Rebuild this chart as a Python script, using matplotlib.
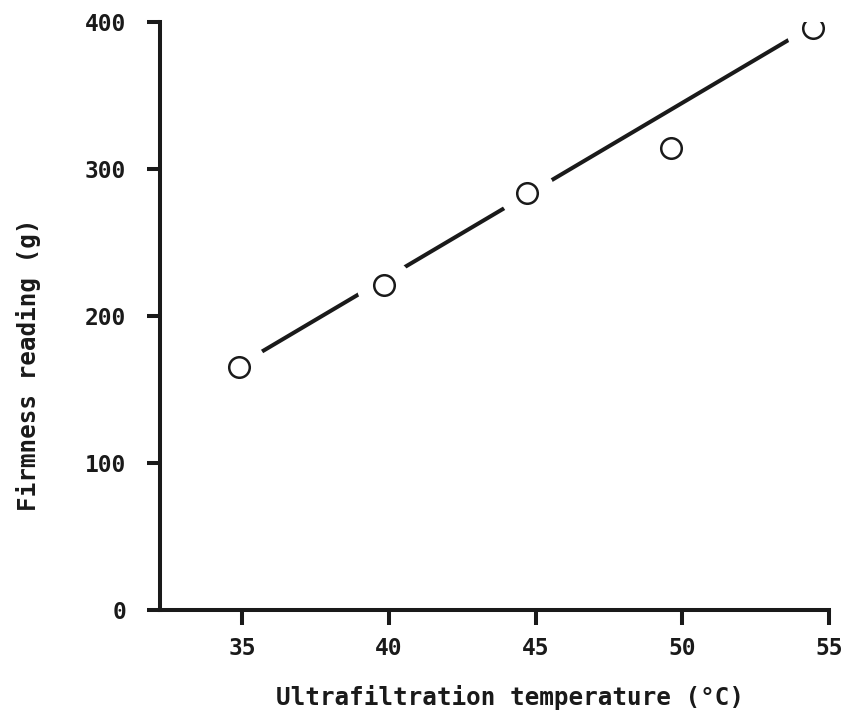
import matplotlib
matplotlib.use("Agg")
import matplotlib.pyplot as plt
import numpy as np

# data
temp = [34.9, 39.84, 44.71, 49.6, 54.45]          # ultrafiltration temperature (C)
firmness = [165, 221, 284, 314, 396]              # firmness reading (g)

# fitted line
slope = 11.81
intercept = -245.5
fit_x = [35.65, 53.67]

xticks = [35, 40, 45, 50, 55]
yticks = [0, 100, 200, 300, 400]

plt.rcParams["font.family"] = ["DejaVu Sans Mono", "DejaVu Sans"]

fig = plt.figure(figsize=(8.46, 7.2), dpi=100)
ax = fig.add_axes([0.1891, 0.1528, 0.7908, 0.8166])

fx = np.array(fit_x)
ax.plot(fx, slope * fx + intercept, color="#1a1a1a", lw=2.9,
        solid_capstyle="round", zorder=2)
# white halo breaks the line around each point
ax.plot(temp, firmness, "o", ms=40, mfc="white", mec="none", zorder=3)
ax.plot(temp, firmness, "o", ms=14.8, mfc="white", mec="#1a1a1a",
        mew=1.8, zorder=4)

ax.set_xlim(32.2, 55)
ax.set_ylim(0, 400)
ax.set_xticks(xticks)
ax.set_yticks(yticks)

for s in ["top", "right"]:
    ax.spines[s].set_visible(False)
for s in ["left", "bottom"]:
    ax.spines[s].set_linewidth(2.9)
    ax.spines[s].set_color("#1a1a1a")
    ax.spines[s].set_capstyle("projecting")

ax.tick_params(axis="x", length=10.8, width=2.9, pad=9, labelsize=16.5,
               color="#1a1a1a", labelcolor="#1a1a1a")
ax.tick_params(axis="y", length=9.4, width=2.9, pad=15, labelsize=16.5,
               color="#1a1a1a", labelcolor="#1a1a1a")
for lab in ax.get_xticklabels() + ax.get_yticklabels():
    lab.set_fontweight("bold")

ax.set_xlabel("Ultrafiltration temperature (°C)", fontsize=17.5,
              color="#1a1a1a", va="center", fontweight="bold")
ax.xaxis.set_label_coords(0.523, -0.148)
ax.set_ylabel("Firmness reading (g)", fontsize=17.5, color="#1a1a1a",
              va="center", fontweight="bold")
ax.yaxis.set_label_coords(-0.197, 0.417)

fig.savefig("out.png", dpi=100)
